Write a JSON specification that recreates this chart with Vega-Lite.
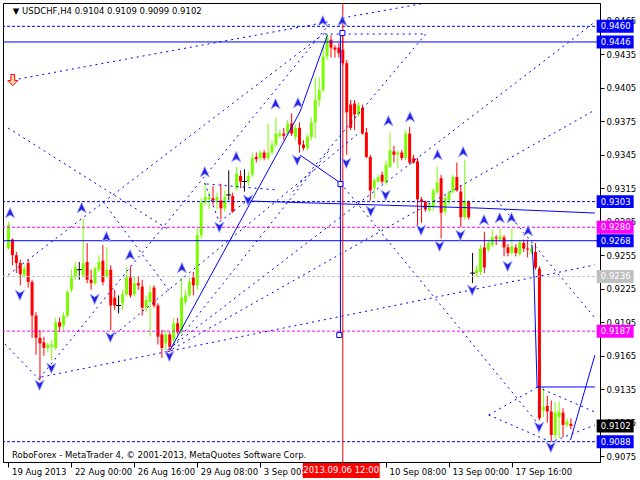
{
  "$schema": "https://vega.github.io/schema/vega-lite/v6.json",
  "width": 597,
  "height": 459,
  "autosize": {"type": "none"},
  "padding": {"left": 3, "top": 3, "right": 40, "bottom": 18},
  "background": "white",
  "config": {
    "view": {"stroke": "black", "strokeWidth": 1},
    "font": "DejaVu Sans",
    "axis": {"labelOverlap": false, "labelFlush": false}
  },
  "datasets": {
    "one": [{}],
    "candles": [
      {"i":0,"o":0.9261,"h":0.9285,"l":0.9260,"c":0.9282},
      {"i":1,"o":0.9269,"h":0.9270,"l":0.9246,"c":0.9255},
      {"i":2,"o":0.9255,"h":0.9258,"l":0.9239,"c":0.9248},
      {"i":3,"o":0.9248,"h":0.9251,"l":0.9228,"c":0.9238},
      {"i":4,"o":0.9237,"h":0.9246,"l":0.9235,"c":0.9243},
      {"i":5,"o":0.9248,"h":0.9251,"l":0.9226,"c":0.9231},
      {"i":6,"o":0.9231,"h":0.9233,"l":0.9181,"c":0.9201},
      {"i":7,"o":0.9201,"h":0.9204,"l":0.9166,"c":0.9181},
      {"i":8,"o":0.9181,"h":0.9188,"l":0.9143,"c":0.9176},
      {"i":9,"o":0.9177,"h":0.9182,"l":0.9165,"c":0.9172},
      {"i":10,"o":0.9172,"h":0.9177,"l":0.9168,"c":0.9175},
      {"i":11,"o":0.9173,"h":0.9179,"l":0.9161,"c":0.9175},
      {"i":12,"o":0.9172,"h":0.9199,"l":0.9170,"c":0.9195},
      {"i":13,"o":0.9195,"h":0.9199,"l":0.9186,"c":0.9191},
      {"i":14,"o":0.9192,"h":0.9204,"l":0.9188,"c":0.9201},
      {"i":15,"o":0.9201,"h":0.9224,"l":0.9199,"c":0.9222},
      {"i":16,"o":0.9224,"h":0.9242,"l":0.9222,"c":0.9235},
      {"i":17,"o":0.9236,"h":0.9249,"l":0.9233,"c":0.9244},
      {"i":18,"o":0.9242,"h":0.9249,"l":0.9233,"c":0.9242},
      {"i":19,"o":0.9237,"h":0.9288,"l":0.9235,"c":0.9248},
      {"i":20,"o":0.9249,"h":0.9266,"l":0.9230,"c":0.9233},
      {"i":21,"o":0.9233,"h":0.9242,"l":0.9224,"c":0.9230},
      {"i":22,"o":0.9230,"h":0.9245,"l":0.9228,"c":0.9243},
      {"i":23,"o":0.9242,"h":0.9255,"l":0.9240,"c":0.9249},
      {"i":24,"o":0.9250,"h":0.9264,"l":0.9228,"c":0.9231},
      {"i":25,"o":0.9236,"h":0.9262,"l":0.9235,"c":0.9242},
      {"i":26,"o":0.9242,"h":0.9246,"l":0.9188,"c":0.9210},
      {"i":27,"o":0.9217,"h":0.9224,"l":0.9206,"c":0.9210},
      {"i":28,"o":0.9210,"h":0.9219,"l":0.9203,"c":0.9210},
      {"i":29,"o":0.9212,"h":0.9224,"l":0.9206,"c":0.9220},
      {"i":30,"o":0.9220,"h":0.9244,"l":0.9218,"c":0.9235},
      {"i":31,"o":0.9235,"h":0.9245,"l":0.9217,"c":0.9219},
      {"i":32,"o":0.9220,"h":0.9236,"l":0.9218,"c":0.9230},
      {"i":33,"o":0.9230,"h":0.9236,"l":0.9224,"c":0.9228},
      {"i":34,"o":0.9227,"h":0.9233,"l":0.9201,"c":0.9208},
      {"i":35,"o":0.9208,"h":0.9219,"l":0.9204,"c":0.9215},
      {"i":36,"o":0.9213,"h":0.9228,"l":0.9182,"c":0.9222},
      {"i":37,"o":0.9226,"h":0.9228,"l":0.9208,"c":0.9210},
      {"i":38,"o":0.9210,"h":0.9212,"l":0.9175,"c":0.9182},
      {"i":39,"o":0.9184,"h":0.9188,"l":0.9163,"c":0.9172},
      {"i":40,"o":0.9176,"h":0.9188,"l":0.9170,"c":0.9184},
      {"i":41,"o":0.9184,"h":0.9186,"l":0.9168,"c":0.9173},
      {"i":42,"o":0.9179,"h":0.9199,"l":0.9175,"c":0.9194},
      {"i":43,"o":0.9194,"h":0.9199,"l":0.9184,"c":0.9186},
      {"i":44,"o":0.9186,"h":0.9235,"l":0.9184,"c":0.9217},
      {"i":45,"o":0.9213,"h":0.9224,"l":0.9211,"c":0.9219},
      {"i":46,"o":0.9219,"h":0.9235,"l":0.9218,"c":0.9231},
      {"i":47,"o":0.9235,"h":0.9240,"l":0.9219,"c":0.9228},
      {"i":48,"o":0.9228,"h":0.9280,"l":0.9224,"c":0.9273},
      {"i":49,"o":0.9273,"h":0.9306,"l":0.9270,"c":0.9302},
      {"i":50,"o":0.9302,"h":0.9320,"l":0.9300,"c":0.9307},
      {"i":51,"o":0.9305,"h":0.9312,"l":0.9296,"c":0.9307},
      {"i":52,"o":0.9306,"h":0.9317,"l":0.9300,"c":0.9304},
      {"i":53,"o":0.9303,"h":0.9311,"l":0.9296,"c":0.9307},
      {"i":54,"o":0.9304,"h":0.9319,"l":0.9287,"c":0.9297},
      {"i":55,"o":0.9297,"h":0.9313,"l":0.9294,"c":0.9307},
      {"i":56,"o":0.9309,"h":0.9331,"l":0.9304,"c":0.9309},
      {"i":57,"o":0.9308,"h":0.9311,"l":0.9293,"c":0.9294},
      {"i":58,"o":0.9315,"h":0.9334,"l":0.9313,"c":0.9328},
      {"i":59,"o":0.9326,"h":0.9331,"l":0.9315,"c":0.9321},
      {"i":60,"o":0.9321,"h":0.9332,"l":0.9312,"c":0.9321},
      {"i":61,"o":0.9321,"h":0.9330,"l":0.9317,"c":0.9326},
      {"i":62,"o":0.9327,"h":0.9347,"l":0.9325,"c":0.9342},
      {"i":63,"o":0.9343,"h":0.9347,"l":0.9338,"c":0.9341},
      {"i":64,"o":0.9342,"h":0.9349,"l":0.9340,"c":0.9347},
      {"i":65,"o":0.9347,"h":0.9349,"l":0.9340,"c":0.9342},
      {"i":66,"o":0.9342,"h":0.9373,"l":0.9340,"c":0.9347},
      {"i":67,"o":0.9347,"h":0.9358,"l":0.9345,"c":0.9354},
      {"i":68,"o":0.9354,"h":0.9378,"l":0.9352,"c":0.9364},
      {"i":69,"o":0.9362,"h":0.9367,"l":0.9360,"c":0.9364},
      {"i":70,"o":0.9364,"h":0.9369,"l":0.9358,"c":0.9362},
      {"i":71,"o":0.9364,"h":0.9376,"l":0.9363,"c":0.9373},
      {"i":72,"o":0.9373,"h":0.9382,"l":0.9362,"c":0.9364},
      {"i":73,"o":0.9361,"h":0.9372,"l":0.9358,"c":0.9369},
      {"i":74,"o":0.9369,"h":0.9374,"l":0.9347,"c":0.9354},
      {"i":75,"o":0.9354,"h":0.9358,"l":0.9349,"c":0.9351},
      {"i":76,"o":0.9351,"h":0.9363,"l":0.9349,"c":0.9361},
      {"i":77,"o":0.9361,"h":0.9378,"l":0.9358,"c":0.9374},
      {"i":78,"o":0.9374,"h":0.9414,"l":0.9360,"c":0.9394},
      {"i":79,"o":0.9394,"h":0.9414,"l":0.9388,"c":0.9403},
      {"i":80,"o":0.9403,"h":0.9443,"l":0.9401,"c":0.9433},
      {"i":81,"o":0.9433,"h":0.9454,"l":0.9430,"c":0.9450},
      {"i":82,"o":0.9448,"h":0.9452,"l":0.9432,"c":0.9441},
      {"i":83,"o":0.9441,"h":0.9443,"l":0.9432,"c":0.9439},
      {"i":84,"o":0.9441,"h":0.9445,"l":0.9432,"c":0.9436},
      {"i":85,"o":0.9439,"h":0.9455,"l":0.9425,"c":0.9427},
      {"i":86,"o":0.9427,"h":0.9430,"l":0.9345,"c":0.9383},
      {"i":87,"o":0.9390,"h":0.9394,"l":0.9367,"c":0.9369},
      {"i":88,"o":0.9391,"h":0.9394,"l":0.9367,"c":0.9381},
      {"i":89,"o":0.9381,"h":0.9392,"l":0.9379,"c":0.9389},
      {"i":90,"o":0.9387,"h":0.9390,"l":0.9363,"c":0.9364},
      {"i":91,"o":0.9365,"h":0.9369,"l":0.9342,"c":0.9343},
      {"i":92,"o":0.9343,"h":0.9345,"l":0.9304,"c":0.9313},
      {"i":93,"o":0.9315,"h":0.9324,"l":0.9306,"c":0.9322},
      {"i":94,"o":0.9321,"h":0.9327,"l":0.9320,"c":0.9325},
      {"i":95,"o":0.9327,"h":0.9330,"l":0.9319,"c":0.9321},
      {"i":96,"o":0.9320,"h":0.9340,"l":0.9318,"c":0.9336},
      {"i":97,"o":0.9334,"h":0.9365,"l":0.9333,"c":0.9349},
      {"i":98,"o":0.9348,"h":0.9353,"l":0.9338,"c":0.9345},
      {"i":99,"o":0.9345,"h":0.9349,"l":0.9333,"c":0.9347},
      {"i":100,"o":0.9347,"h":0.9349,"l":0.9340,"c":0.9342},
      {"i":101,"o":0.9342,"h":0.9367,"l":0.9340,"c":0.9364},
      {"i":102,"o":0.9364,"h":0.9370,"l":0.9336,"c":0.9338},
      {"i":103,"o":0.9342,"h":0.9345,"l":0.9337,"c":0.9338},
      {"i":104,"o":0.9339,"h":0.9342,"l":0.9282,"c":0.9305},
      {"i":105,"o":0.9305,"h":0.9307,"l":0.9284,"c":0.9303},
      {"i":106,"o":0.9303,"h":0.9304,"l":0.9294,"c":0.9296},
      {"i":107,"o":0.9295,"h":0.9302,"l":0.9294,"c":0.9300},
      {"i":108,"o":0.9298,"h":0.9315,"l":0.9295,"c":0.9313},
      {"i":109,"o":0.9312,"h":0.9334,"l":0.9310,"c":0.9320},
      {"i":110,"o":0.9324,"h":0.9327,"l":0.9270,"c":0.9293},
      {"i":111,"o":0.9294,"h":0.9308,"l":0.9291,"c":0.9306},
      {"i":112,"o":0.9304,"h":0.9313,"l":0.9300,"c":0.9311},
      {"i":113,"o":0.9312,"h":0.9327,"l":0.9310,"c":0.9325},
      {"i":114,"o":0.9325,"h":0.9338,"l":0.9312,"c":0.9313},
      {"i":115,"o":0.9312,"h":0.9318,"l":0.9280,"c":0.9289},
      {"i":116,"o":0.9289,"h":0.9340,"l":0.9287,"c":0.9304},
      {"i":117,"o":0.9303,"h":0.9304,"l":0.9287,"c":0.9289},
      {"i":118,"o":0.9239,"h":0.9257,"l":0.9230,"c":0.9239},
      {"i":119,"o":0.9239,"h":0.9246,"l":0.9235,"c":0.9242},
      {"i":120,"o":0.9240,"h":0.9264,"l":0.9237,"c":0.9261},
      {"i":121,"o":0.9262,"h":0.9276,"l":0.9239,"c":0.9244},
      {"i":122,"o":0.9260,"h":0.9269,"l":0.9258,"c":0.9266},
      {"i":123,"o":0.9264,"h":0.9278,"l":0.9262,"c":0.9271},
      {"i":124,"o":0.9271,"h":0.9273,"l":0.9264,"c":0.9270},
      {"i":125,"o":0.9269,"h":0.9279,"l":0.9267,"c":0.9272},
      {"i":126,"o":0.9271,"h":0.9273,"l":0.9254,"c":0.9262},
      {"i":127,"o":0.9262,"h":0.9265,"l":0.9254,"c":0.9257},
      {"i":128,"o":0.9257,"h":0.9279,"l":0.9255,"c":0.9263},
      {"i":129,"o":0.9262,"h":0.9265,"l":0.9254,"c":0.9257},
      {"i":130,"o":0.9256,"h":0.9269,"l":0.9254,"c":0.9267},
      {"i":131,"o":0.9266,"h":0.9269,"l":0.9258,"c":0.9261},
      {"i":132,"o":0.9261,"h":0.9269,"l":0.9253,"c":0.9260},
      {"i":133,"o":0.9258,"h":0.9266,"l":0.9256,"c":0.9261},
      {"i":134,"o":0.9258,"h":0.9266,"l":0.9242,"c":0.9244},
      {"i":135,"o":0.9243,"h":0.9245,"l":0.9107,"c":0.9109},
      {"i":136,"o":0.9116,"h":0.9137,"l":0.9110,"c":0.9119},
      {"i":137,"o":0.9120,"h":0.9129,"l":0.9105,"c":0.9115},
      {"i":138,"o":0.9115,"h":0.9125,"l":0.9088,"c":0.9094},
      {"i":139,"o":0.9094,"h":0.9123,"l":0.9091,"c":0.9114},
      {"i":140,"o":0.9110,"h":0.9124,"l":0.9091,"c":0.9115},
      {"i":141,"o":0.9114,"h":0.9118,"l":0.9092,"c":0.9103},
      {"i":142,"o":0.9103,"h":0.9109,"l":0.9101,"c":0.9106},
      {"i":143,"o":0.9104,"h":0.9109,"l":0.9099,"c":0.9102}
    ],
    "levels": [
      {"p":0.9460,"k":"dash"},
      {"p":0.9446,"k":"solid"},
      {"p":0.9303,"k":"dash"},
      {"p":0.9280,"k":"mag"},
      {"p":0.9268,"k":"solid"},
      {"p":0.9236,"k":"gray"},
      {"p":0.9187,"k":"mag"},
      {"p":0.9088,"k":"dash"}
    ],
    "tags": [
      {"p":0.9460,"k":"dash"},
      {"p":0.9446,"k":"solid"},
      {"p":0.9303,"k":"dash"},
      {"p":0.9280,"k":"mag"},
      {"p":0.9268,"k":"solid"},
      {"p":0.9236,"k":"gray"},
      {"p":0.9187,"k":"mag"},
      {"p":0.9102,"k":"last"},
      {"p":0.9088,"k":"dash"}
    ],
    "dotted": [
      {"s":1,"k":0,"i":1.1,"p":0.94119},{"s":1,"k":1,"i":81.1,"p":0.94639},
      {"s":2,"k":0,"i":84.9,"p":0.94675},{"s":2,"k":1,"i":106.1,"p":0.94809},
      {"s":3,"k":0,"i":80.4,"p":0.94531},{"s":3,"k":1,"i":106.1,"p":0.94531},
      {"s":4,"k":0,"i":106.1,"p":0.94531},{"s":4,"k":1,"i":71.6,"p":0.93089},
      {"s":5,"k":0,"i":8.4,"p":0.91459},{"s":5,"k":1,"i":149.1,"p":0.92463},
      {"s":6,"k":0,"i":40.4,"p":0.91701},{"s":6,"k":1,"i":149.1,"p":0.94639},
      {"s":7,"k":0,"i":40.4,"p":0.91683},{"s":7,"k":1,"i":149.1,"p":0.93851},
      {"s":8,"k":0,"i":41.1,"p":0.91701},{"s":8,"k":1,"i":81.6,"p":0.93492},
      {"s":16,"k":0,"i":84.4,"p":0.93197},{"s":16,"k":1,"i":134.9,"p":0.91029},
      {"s":17,"k":0,"i":124.1,"p":0.93045},{"s":17,"k":1,"i":149.1,"p":0.91988},
      {"s":18,"k":0,"i":122.1,"p":0.91119},{"s":18,"k":1,"i":134.6,"p":0.91370},
      {"s":19,"k":0,"i":122.1,"p":0.91119},{"s":19,"k":1,"i":137.9,"p":0.90877},{"s":19,"k":2,"i":149.1,"p":0.91029},
      {"s":20,"k":0,"i":134.4,"p":0.91370},{"s":20,"k":1,"i":149.1,"p":0.91146},
      {"s":21,"k":0,"i":-0.1,"p":0.93689},{"s":21,"k":1,"i":40.9,"p":0.92776},
      {"s":22,"k":0,"i":-0.1,"p":0.92373},{"s":22,"k":1,"i":81.1,"p":0.94558},
      {"s":23,"k":0,"i":7.9,"p":0.91450},{"s":23,"k":1,"i":81.6,"p":0.94621},
      {"s":24,"k":0,"i":25.9,"p":0.91809},{"s":24,"k":1,"i":89.1,"p":0.93645},
      {"s":25,"k":0,"i":-0.9,"p":0.91755},{"s":25,"k":1,"i":7.9,"p":0.91432},
      {"s":26,"k":0,"i":49.9,"p":0.93197},{"s":26,"k":1,"i":53.6,"p":0.92848},{"s":26,"k":2,"i":60.9,"p":0.93045},
      {"s":27,"k":0,"i":50.4,"p":0.93188},{"s":27,"k":1,"i":68.4,"p":0.93134},
      {"s":28,"k":0,"i":24.1,"p":0.93027},{"s":28,"k":1,"i":41.1,"p":0.92221}
    ],
    "solid": [
      {"s":9,"k":0,"i":41.1,"p":0.91701},{"s":9,"k":1,"i":74.1,"p":0.93833},{"s":9,"k":2,"i":81.1,"p":0.94522},
      {"s":10,"k":0,"i":60.4,"p":0.93036},{"s":10,"k":1,"i":119.1,"p":0.92973},{"s":10,"k":2,"i":149.1,"p":0.92928},
      {"s":11,"k":0,"i":133.1,"p":0.92642},{"s":11,"k":1,"i":133.6,"p":0.92373},{"s":11,"k":2,"i":134.4,"p":0.91370},
      {"s":12,"k":0,"i":134.4,"p":0.91370},{"s":12,"k":1,"i":149.1,"p":0.91370},
      {"s":13,"k":0,"i":142.9,"p":0.90895},{"s":13,"k":1,"i":149.1,"p":0.91656},
      {"s":14,"k":0,"i":84.4,"p":0.94540},{"s":14,"k":1,"i":84.4,"p":0.91835},
      {"s":15,"k":0,"i":74.1,"p":0.93448},{"s":15,"k":1,"i":84.4,"p":0.93197}
    ],
    "arrows": [
      {"i":0.4,"p":0.92928,"d":"up"},
      {"i":18.6,"p":0.92973,"d":"up"},
      {"i":24.9,"p":0.92713,"d":"up"},
      {"i":30.9,"p":0.92552,"d":"up"},
      {"i":44.1,"p":0.92436,"d":"up"},
      {"i":49.9,"p":0.93295,"d":"up"},
      {"i":57.9,"p":0.93430,"d":"up"},
      {"i":67.9,"p":0.93904,"d":"up"},
      {"i":73.6,"p":0.93913,"d":"up"},
      {"i":79.9,"p":0.94648,"d":"up"},
      {"i":84.9,"p":0.94648,"d":"up"},
      {"i":96.6,"p":0.93752,"d":"up"},
      {"i":102.1,"p":0.93788,"d":"up"},
      {"i":109.1,"p":0.93448,"d":"up"},
      {"i":115.6,"p":0.93475,"d":"up"},
      {"i":120.9,"p":0.92865,"d":"up"},
      {"i":124.9,"p":0.92883,"d":"up"},
      {"i":127.9,"p":0.92883,"d":"up"},
      {"i":132.1,"p":0.92767,"d":"up"},
      {"i":2.9,"p":0.92194,"d":"down"},
      {"i":7.9,"p":0.91388,"d":"down"},
      {"i":10.9,"p":0.91540,"d":"down"},
      {"i":21.9,"p":0.92158,"d":"down"},
      {"i":25.9,"p":0.91817,"d":"down"},
      {"i":40.9,"p":0.91647,"d":"down"},
      {"i":53.6,"p":0.92803,"d":"down"},
      {"i":60.9,"p":0.93045,"d":"down"},
      {"i":73.4,"p":0.93403,"d":"down"},
      {"i":85.9,"p":0.93376,"d":"down"},
      {"i":92.1,"p":0.92946,"d":"down"},
      {"i":95.9,"p":0.93089,"d":"down"},
      {"i":104.9,"p":0.92776,"d":"down"},
      {"i":109.6,"p":0.92633,"d":"down"},
      {"i":114.9,"p":0.92731,"d":"down"},
      {"i":117.9,"p":0.92238,"d":"down"},
      {"i":126.9,"p":0.92453,"d":"down"},
      {"i":134.9,"p":0.91011,"d":"down"},
      {"i":137.9,"p":0.90832,"d":"down"}
    ],
    "squares": [
      {"i":84.9,"p":0.94540},
      {"i":84.4,"p":0.93188},
      {"i":84.1,"p":0.91835}
    ]
  },
  "layer": [
    {
      "data": {"name": "candles"},
      "mark": {"type": "rule", "strokeWidth": 1},
      "encoding": {
        "x": {
          "field": "i", "type": "quantitative", "title": null,
          "scale": {"domain": [-0.125, 149.125], "nice": false, "zero": false},
          "axis": {
            "orient": "bottom", "title": null, "grid": false,
            "values": [0, 16, 32, 48, 64, 96, 112, 128], "tickCount": 30,
            "labelExpr": "['19 Aug 2013','22 Aug 00:00','26 Aug 16:00','29 Aug 08:00','3 Sep 00:00','','10 Sep 08:00','13 Sep 00:00','17 Sep 16:00'][datum.value/16]",
            "tickSize": 5, "tickColor": "black", "domainColor": "black",
            "labelAlign": "left", "labelOffset": 3, "labelPadding": 0,
            "labelBaseline": "top", "labelFont": "DejaVu Sans", "labelFontSize": 8.5,
            "labelColor": "black", "labelFlush": false, "labelOverlap": false
          }
        },
        "y": {
          "field": "l", "type": "quantitative", "title": null,
          "scale": {"domain": [0.90698, 0.94809], "nice": false, "zero": false},
          "axis": {
            "orient": "right", "title": null, "grid": false,
            "values": [0.9075, 0.9105, 0.9135, 0.9165, 0.9195, 0.9225, 0.9255, 0.9285, 0.9315, 0.9345, 0.9375, 0.9405, 0.9435, 0.9465],
            "tickCount": 30,
            "format": ".4f", "tickSize": 4, "tickColor": "black", "domainColor": "black",
            "labelPadding": 2, "labelFont": "DejaVu Sans", "labelFontSize": 8.5,
            "labelColor": "black", "labelFlush": false, "labelOverlap": false, "labelBaseline": "middle"
          }
        },
        "y2": {"field": "h"},
        "color": {
          "condition": [
            {"test": "datum.c > datum.o", "value": "#7CFC00"},
            {"test": "datum.c < datum.o", "value": "#FF0000"}
          ],
          "value": "#000000"
        }
      }
    },
    {
      "data": {"name": "candles"},
      "mark": {"type": "bar", "width": 3},
      "encoding": {
        "x": {"field": "i", "type": "quantitative", "title": null},
        "y": {"field": "o", "type": "quantitative", "title": null},
        "y2": {"field": "c"},
        "color": {
          "condition": [
            {"test": "datum.c > datum.o", "value": "#7CFC00"},
            {"test": "datum.c < datum.o", "value": "#FF0000"}
          ],
          "value": "#000000"
        }
      }
    },
    {
      "data": {"name": "candles"},
      "transform": [{"filter": "datum.o == datum.c"}],
      "mark": {"type": "tick", "orient": "horizontal", "size": 5, "thickness": 1, "color": "black", "opacity": 1},
      "encoding": {
        "x": {"field": "i", "type": "quantitative", "title": null},
        "y": {"field": "c", "type": "quantitative", "title": null}
      }
    },
    {
      "data": {"name": "levels"},
      "mark": {"type": "rule", "strokeWidth": 1},
      "encoding": {
        "y": {"field": "p", "type": "quantitative", "title": null},
        "color": {"field": "k", "type": "nominal", "legend": null,
          "scale": {"domain": ["solid", "dash", "mag", "gray", "last"], "range": ["#0000FF", "#0000FF", "#FF00FF", "#C0C0C0", "#000000"]}},
        "strokeDash": {"field": "k", "type": "nominal", "legend": null,
          "scale": {"domain": ["solid", "dash", "mag", "gray", "last"], "range": [[1, 0], [3, 2], [3, 2], [3, 2], [1, 0]]}}
      }
    },
    {
      "data": {"name": "dotted"},
      "mark": {"type": "line", "color": "#0000FF", "strokeWidth": 1, "strokeDash": [2, 4], "clip": true},
      "encoding": {
        "x": {"field": "i", "type": "quantitative", "title": null},
        "y": {"field": "p", "type": "quantitative", "title": null},
        "detail": {"field": "s", "type": "nominal"},
        "order": {"field": "k", "type": "quantitative"}
      }
    },
    {
      "data": {"name": "solid"},
      "mark": {"type": "line", "color": "#0000FF", "strokeWidth": 1, "clip": true},
      "encoding": {
        "x": {"field": "i", "type": "quantitative", "title": null},
        "y": {"field": "p", "type": "quantitative", "title": null},
        "detail": {"field": "s", "type": "nominal"},
        "order": {"field": "k", "type": "quantitative"}
      }
    },
    {
      "data": {"name": "one"},
      "mark": {"type": "rule", "color": "#FF0000", "strokeWidth": 1},
      "encoding": {"x": {"datum": 85, "type": "quantitative", "title": null}}
    },
    {
      "data": {"name": "arrows"},
      "mark": {"type": "point", "filled": true, "size": 121, "fill": "#2222E4", "stroke": "#A8A8FF", "strokeWidth": 0.8, "opacity": 1},
      "encoding": {
        "x": {"field": "i", "type": "quantitative", "title": null},
        "y": {"field": "p", "type": "quantitative", "title": null},
        "shape": {"field": "d", "type": "nominal", "legend": null,
          "scale": {"domain": ["up", "down"], "range": ["M0,-1L0.85,0.9L0,0.35L-0.85,0.9Z", "M0,1L0.85,-0.9L0,-0.35L-0.85,-0.9Z"]}}
      }
    },
    {
      "data": {"name": "squares"},
      "mark": {"type": "point", "shape": "square", "size": 25, "filled": false, "fill": "white", "stroke": "#0000FF", "strokeWidth": 1, "opacity": 1},
      "encoding": {
        "x": {"field": "i", "type": "quantitative", "title": null},
        "y": {"field": "p", "type": "quantitative", "title": null}
      }
    },
    {
      "data": {"name": "one"},
      "mark": {"type": "point", "shape": "M-0.35,-1H0.35V0.1H0.9L0,1L-0.9,0.1H-0.35Z", "size": 121, "filled": true, "fill": "#FFD8B0", "stroke": "#FF0000", "strokeWidth": 1, "opacity": 1},
      "encoding": {
        "x": {"datum": 1.1, "type": "quantitative", "title": null},
        "y": {"datum": 0.94119, "type": "quantitative", "title": null}
      }
    },
    {
      "data": {"name": "tags"},
      "mark": {"type": "point", "shape": "M-1,-0.351H1V0.351H-1Z", "size": 1369, "filled": true, "opacity": 1, "strokeWidth": 0},
      "encoding": {
        "x": {"datum": 154.25, "type": "quantitative", "title": null},
        "y": {"field": "p", "type": "quantitative", "title": null},
        "color": {"field": "k", "type": "nominal", "legend": null,
          "scale": {"domain": ["solid", "dash", "mag", "gray", "last"], "range": ["#0000FF", "#0000FF", "#FF00FF", "#C0C0C0", "#000000"]}}
      }
    },
    {
      "data": {"name": "tags"},
      "mark": {"type": "text", "align": "left", "baseline": "middle", "font": "DejaVu Sans", "fontSize": 8.5, "color": "white"},
      "encoding": {
        "x": {"datum": 150.6, "type": "quantitative", "title": null},
        "y": {"field": "p", "type": "quantitative", "title": null},
        "text": {"field": "p", "type": "quantitative", "format": ".4f"}
      }
    },
    {
      "data": {"name": "one"},
      "mark": {"type": "point", "shape": "M-1,-0.195H1V0.195H-1Z", "size": 5929, "filled": true, "fill": "#FF0000", "strokeWidth": 0, "opacity": 1},
      "encoding": {
        "x": {"datum": 84.6, "type": "quantitative", "title": null},
        "y": {"datum": 0.90622, "type": "quantitative", "title": null}
      }
    },
    {
      "data": {"name": "one"},
      "mark": {"type": "text", "align": "center", "baseline": "middle", "font": "DejaVu Sans", "fontSize": 8.5, "color": "white", "text": "2013.09.06 12:00"},
      "encoding": {
        "x": {"datum": 84.6, "type": "quantitative", "title": null},
        "y": {"datum": 0.90622, "type": "quantitative", "title": null}
      }
    },
    {
      "data": {"name": "one"},
      "mark": {"type": "text", "align": "left", "baseline": "middle", "font": "DejaVu Sans", "fontSize": 8.5, "color": "black", "text": "▼ USDCHF,H4  0.9104 0.9109 0.9099 0.9102"},
      "encoding": {
        "x": {"datum": 1.1, "type": "quantitative", "title": null},
        "y": {"datum": 0.94737, "type": "quantitative", "title": null}
      }
    },
    {
      "data": {"name": "one"},
      "mark": {"type": "text", "align": "left", "baseline": "middle", "font": "DejaVu Sans", "fontSize": 8.5, "color": "black", "text": "RoboForex - MetaTrader 4, © 2001-2013, MetaQuotes Software Corp."},
      "encoding": {
        "x": {"datum": 0.9, "type": "quantitative", "title": null},
        "y": {"datum": 0.90761, "type": "quantitative", "title": null}
      }
    }
  ]
}
